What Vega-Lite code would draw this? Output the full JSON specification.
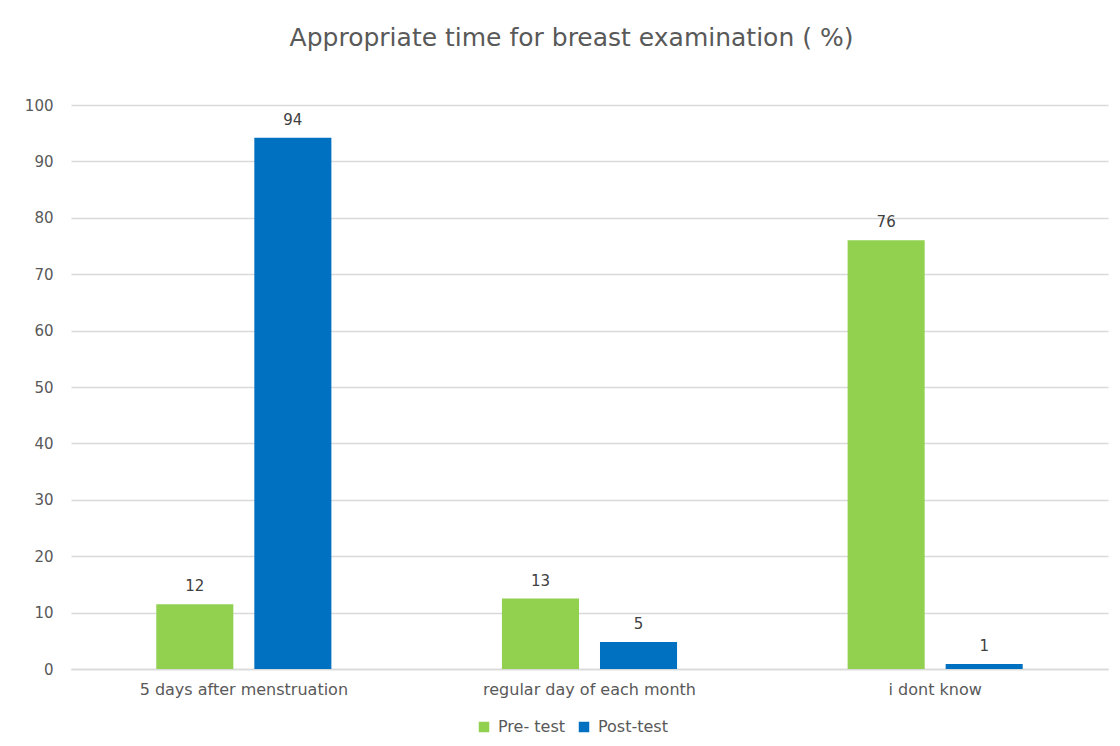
{
  "$schema": "https://vega.github.io/schema/vega-lite/v6.json",
  "autosize": {"type": "none"},
  "width": 1037,
  "height": 564,
  "padding": {"left": 71, "top": 105, "right": 12, "bottom": 77},
  "background": "white",
  "config": {"view": {"stroke": null}},
  "title": {
    "text": "Appropriate time for breast examination ( %)",
    "font": "DejaVu Sans",
    "fontSize": 25,
    "fontWeight": "normal",
    "color": "#595959",
    "anchor": "middle",
    "dx": -18,
    "offset": 47
  },
  "data": {
    "values": [
      {"category": "5 days after menstruation", "group": "Pre- test", "value": 11.5, "label": "12"},
      {"category": "5 days after menstruation", "group": "Post-test", "value": 94.2, "label": "94"},
      {"category": "regular day of each month", "group": "Pre- test", "value": 12.5, "label": "13"},
      {"category": "regular day of each month", "group": "Post-test", "value": 4.8, "label": "5"},
      {"category": "i dont know", "group": "Pre- test", "value": 76, "label": "76"},
      {"category": "i dont know", "group": "Post-test", "value": 0.9, "label": "1"}
    ]
  },
  "encoding": {
    "x": {
      "field": "category",
      "type": "nominal",
      "sort": null,
      "scale": {"paddingInner": 0, "paddingOuter": 0},
      "axis": {
        "title": null,
        "labelAngle": 0,
        "labelLimit": 0,
        "ticks": false,
        "domainColor": "#d9d9d9",
        "domainWidth": 1.5,
        "labelFont": "DejaVu Sans",
        "labelFontSize": 16,
        "labelColor": "#595959",
        "labelPadding": 12
      }
    },
    "xOffset": {
      "field": "group",
      "type": "nominal",
      "sort": ["Pre- test", "Post-test"],
      "scale": {"paddingInner": 0.214, "paddingOuter": 0.87}
    },
    "y": {
      "field": "value",
      "type": "quantitative",
      "scale": {"domain": [0, 100]},
      "axis": {
        "title": null,
        "values": [0, 10, 20, 30, 40, 50, 60, 70, 80, 90, 100],
        "domain": false,
        "ticks": false,
        "gridColor": "#d9d9d9",
        "gridWidth": 1.5,
        "labelFont": "DejaVu Sans",
        "labelFontSize": 15,
        "labelColor": "#595959",
        "labelPadding": 18
      }
    }
  },
  "layer": [
    {
      "mark": {"type": "bar"},
      "encoding": {
        "color": {
          "field": "group",
          "type": "nominal",
          "sort": ["Pre- test", "Post-test"],
          "scale": {"domain": ["Pre- test", "Post-test"], "range": ["#92D050", "#0070C0"]},
          "legend": {
            "title": null,
            "orient": "none",
            "direction": "horizontal",
            "legendX": 405,
            "legendY": 614,
            "symbolType": "square",
            "symbolSize": 110,
            "symbolStrokeWidth": 0,
            "labelFont": "DejaVu Sans",
            "labelFontSize": 16,
            "labelColor": "#595959",
            "labelOffset": 6,
            "columnPadding": 10
          }
        }
      }
    },
    {
      "mark": {"type": "text", "dy": -18, "font": "DejaVu Sans", "fontSize": 15, "color": "#404040"},
      "encoding": {"text": {"field": "label"}}
    }
  ]
}
